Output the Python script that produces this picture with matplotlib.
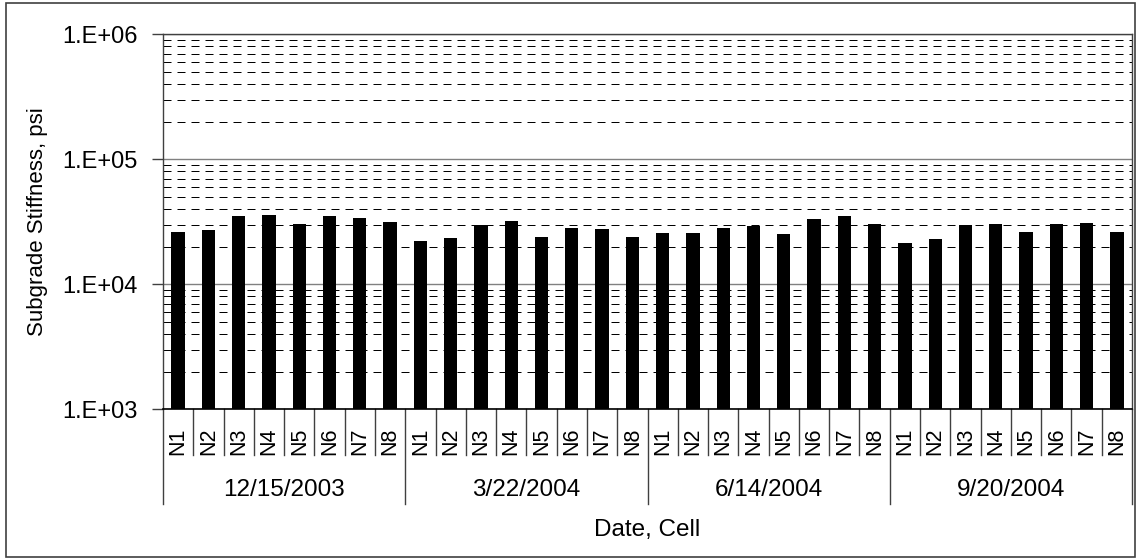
import matplotlib
matplotlib.use("Agg")
import matplotlib.pyplot as plt
from matplotlib.ticker import LogLocator, NullFormatter, FixedLocator
from matplotlib.patches import Rectangle

plt.rcParams['font.family'] = ['Liberation Sans', 'DejaVu Sans']

# Subgrade stiffness (psi) per test date and cell
dates = ['12/15/2003', '3/22/2004', '6/14/2004', '9/20/2004']
cells = ['N1', 'N2', 'N3', 'N4', 'N5', 'N6', 'N7', 'N8']
stiff_2003_12_15 = [26200, 27000, 35200, 36000, 30200, 35400, 33700, 31700]
stiff_2004_03_22 = [22100, 23500, 29600, 32300, 23900, 28400, 27700, 23900]
stiff_2004_06_14 = [25700, 25900, 28200, 29300, 25300, 33300, 35200, 30400]
stiff_2004_09_20 = [21400, 23000, 29800, 30400, 26200, 30400, 30900, 26200]
series = [stiff_2003_12_15, stiff_2004_03_22, stiff_2004_06_14, stiff_2004_09_20]

values = [v for s in series for v in s]
labels = cells * len(dates)
n = len(values)
xs = list(range(n))

W, H = 1137, 560
fig = plt.figure(figsize=(W / 100, H / 100), dpi=100)
fig.patch.set_facecolor('white')

# outer chart border
fig.patches.append(Rectangle((6 / W, 3 / H), 1129 / W, 554 / H, transform=fig.transFigure,
                             fill=False, edgecolor='#404040', linewidth=1.2))

ax_l, ax_r, ax_t, ax_b = 163, 1132, 34.3, 409.3
ax = fig.add_axes([ax_l / W, 1 - ax_b / H, (ax_r - ax_l) / W, (ax_b - ax_t) / H])
ax_h = ax_b - ax_t

ax.bar(xs, values, width=0.44, color='black', zorder=3)

ax.set_yscale('log')
ax.set_ylim(1e3, 1e6)
ax.set_xlim(-0.5, n - 0.5)

major = [1e3, 1e4, 1e5, 1e6]
ax.yaxis.set_major_locator(FixedLocator(major))
ax.set_yticklabels(['1.E+03', '1.E+04', '1.E+05', '1.E+06'])
ax.yaxis.set_minor_locator(LogLocator(base=10, subs=[2, 3, 4, 5, 6, 7, 8, 9]))
ax.yaxis.set_minor_formatter(NullFormatter())
ax.tick_params(axis='y', which='major', length=8, width=1, color='#404040',
               labelsize=17, pad=10, direction='out')
ax.tick_params(axis='y', which='minor', length=0)

ax.yaxis.grid(True, which='major', color='#808080', linewidth=1.0, linestyle='-', zorder=0)
ax.yaxis.grid(True, which='minor', color='black', linewidth=0.72,
              linestyle=(0, (8, 6)), zorder=0)
ax.set_axisbelow(True)

ax.set_xticks(xs)
ax.set_xticklabels(labels, rotation=90, fontsize=15.5)
ax.tick_params(axis='x', length=0, pad=13.0)

for side in ['left', 'right', 'top']:
    ax.spines[side].set_color('#404040')
    ax.spines[side].set_linewidth(1.0)
ax.spines['bottom'].set_color('black')
ax.spines['bottom'].set_linewidth(1.2)

# category separators below the axis
trans = ax.get_xaxis_transform()
cell_depth = -(455 - ax_b) / ax_h
group_depth = -(504 - ax_b) / ax_h
group_size = len(cells)
for k in range(n + 1):
    xk = k - 0.5
    depth = group_depth if k % group_size == 0 else cell_depth
    ax.plot([xk, xk], [0, depth], transform=trans, color='#404040',
            linewidth=1.0, clip_on=False)

# date group labels
for g, d in enumerate(dates):
    xc = g * group_size + (group_size - 1) / 2
    ax.text(xc, -(490 - ax_b) / ax_h, d, transform=trans, ha='center', va='center',
            fontsize=17.5)

ax.text(0.5, -(530 - ax_b) / ax_h, 'Date, Cell', transform=ax.transAxes,
        ha='center', va='center', fontsize=17.5)
ax.text((38 - ax_l) / (ax_r - ax_l), 0.5, 'Subgrade Stiffness, psi', transform=ax.transAxes,
        ha='center', va='center', rotation=90, fontsize=16)

fig.savefig('out.png', dpi=100, facecolor='white')
